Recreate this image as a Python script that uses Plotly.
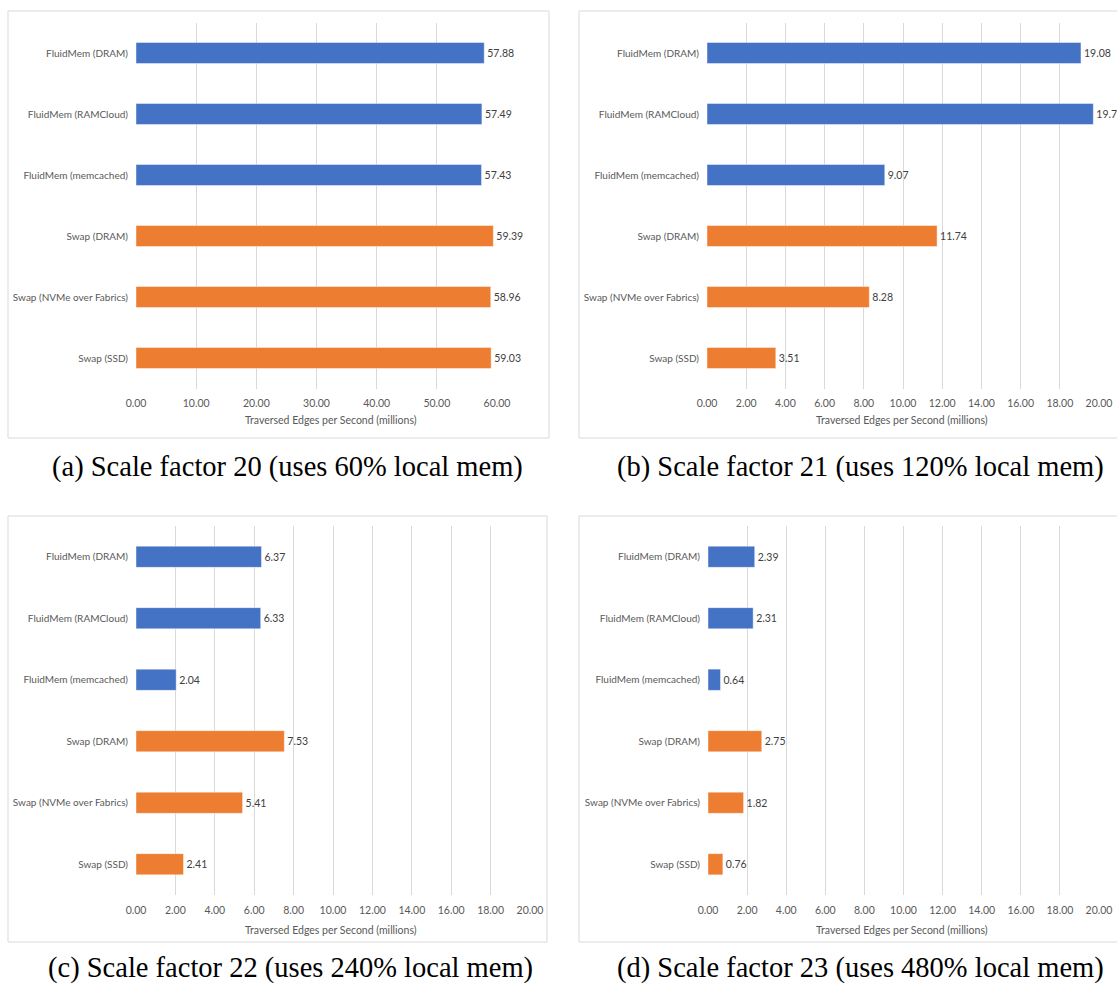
import plotly.graph_objects as go

# ---------------- data ----------------
categories = ["FluidMem (DRAM)", "FluidMem (RAMCloud)", "FluidMem (memcached)",
              "Swap (DRAM)", "Swap (NVMe over Fabrics)", "Swap (SSD)"]
sf20 = [57.88, 57.49, 57.43, 59.39, 58.96, 59.03]
sf21 = [19.08, 19.71, 9.07, 11.74, 8.28, 3.51]
sf22 = [6.37, 6.33, 2.04, 7.53, 5.41, 2.41]
sf23 = [2.39, 2.31, 0.64, 2.75, 1.82, 0.76]
captions = ["(a) Scale factor 20 (uses 60% local mem)",
            "(b) Scale factor 21 (uses 120% local mem)",
            "(c) Scale factor 22 (uses 240% local mem)",
            "(d) Scale factor 23 (uses 480% local mem)"]
axis_title = "Traversed Edges per Second (millions)"
x_max = [60, 20, 20, 20]
x_dtick = [10, 2, 2, 2]
series = [sf20, sf21, sf22, sf23]

# ---------------- style / layout ----------------
W, H = 1117, 986
BLUE, ORANGE = "#4472C4", "#ED7D31"
bar_colors = [BLUE, BLUE, BLUE, ORANGE, ORANGE, ORANGE]
GRID = "#d9d9d9"
TXT = "#595959"
FONT = "Lato"
FS = 10.5
FS_CAT = 10

# plot areas in pixels: (x0, x1, y0, y1)
plot_px = [(136, 497, 22.5, 388.5),
           (707, 1099, 22.5, 388.5),
           (136, 530, 526, 895),
           (708, 1099, 526, 895)]
box_px = [(8, 549, 11, 438), (579, 1140, 11, 438),
          (8, 547, 516, 942), (579, 1140, 516, 942)]
title_px = [(331, 420), (902, 420), (331, 930), (902, 930)]
caption_px = [(287, 467), (860, 467), (290, 968), (860, 968)]

def px_x(x):
    return x / W

def px_y(y):
    return 1 - y / H

fig = go.Figure()
layout = dict(width=W, height=H, margin=dict(l=0, r=0, t=0, b=0, pad=0, autoexpand=False),
              paper_bgcolor="white", plot_bgcolor="white", showlegend=False,
              bargap=0.655, shapes=[], annotations=[])

for i in range(4):
    n = i + 1
    xa = "x" if n == 1 else f"x{n}"
    ya = "y" if n == 1 else f"y{n}"
    fig.add_trace(go.Bar(
        x=series[i], y=categories, orientation="h",
        marker=dict(color=bar_colors, line=dict(color="rgba(255,255,255,0.55)", width=0.8)),
        text=[f"{v:.2f}" for v in series[i]], textposition="outside",
        textfont=dict(family=FONT, size=FS, color="#404040"),
        cliponaxis=False, xaxis=xa, yaxis=ya, hoverinfo="skip"))
    x0, x1, y0, y1 = plot_px[i]
    layout[f"xaxis{'' if n == 1 else n}"] = dict(
        domain=[px_x(x0), px_x(x1)], anchor=ya, range=[0, x_max[i]],
        dtick=x_dtick[i], tick0=0, tickformat=".2f", showgrid=True,
        gridcolor=GRID, gridwidth=1, zeroline=False, showline=False, ticks="",
        automargin=False,
        tickfont=dict(family=FONT, size=FS, color=TXT), ticklabelstandoff=7)
    layout[f"yaxis{'' if n == 1 else n}"] = dict(
        domain=[px_y(y1), px_y(y0)], anchor=xa, autorange="reversed",
        showgrid=False, zeroline=False, showline=False, ticks="",
        automargin=False,
        tickfont=dict(family=FONT, size=FS_CAT, color=TXT), ticklabelstandoff=7)
    bx0, bx1, by0, by1 = box_px[i]
    layout["shapes"].append(dict(type="rect", xref="paper", yref="paper",
                                 x0=px_x(bx0), x1=px_x(bx1), y0=px_y(by1), y1=px_y(by0),
                                 line=dict(color=GRID, width=1), fillcolor="rgba(0,0,0,0)",
                                 layer="below"))
    tx, ty = title_px[i]
    layout["annotations"].append(dict(text=axis_title, xref="paper", yref="paper",
                                      x=px_x(tx), y=px_y(ty), showarrow=False,
                                      xanchor="center", yanchor="middle",
                                      font=dict(family=FONT, size=FS, color=TXT)))
    cx, cy = caption_px[i]
    layout["annotations"].append(dict(text=captions[i], xref="paper", yref="paper",
                                      x=px_x(cx), y=px_y(cy), showarrow=False,
                                      xanchor="center", yanchor="middle",
                                      font=dict(family="Liberation Serif", size=28.5, color="black")))

fig.update_layout(**layout)
fig.write_html("out.html")
